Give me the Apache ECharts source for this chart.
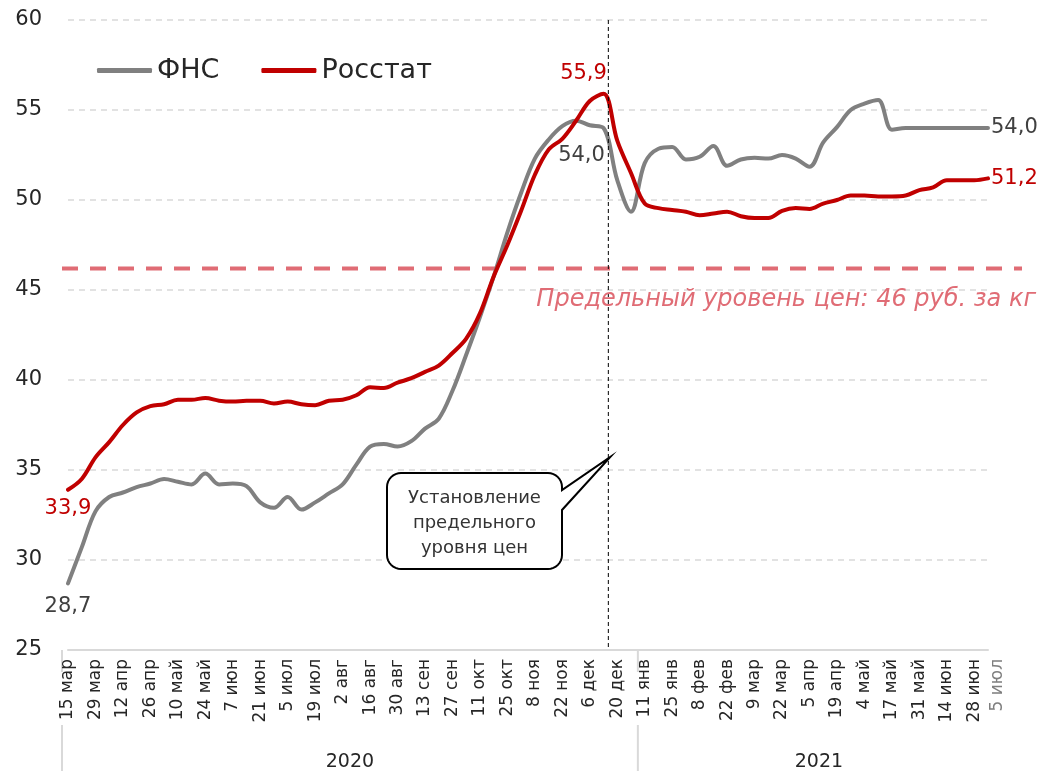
<!DOCTYPE html>
<html>
<head>
<meta charset="utf-8">
<script src="https://cdn.jsdelivr.net/npm/echarts@6/dist/echarts.min.js"></script>
<style>
  html, body { margin: 0; padding: 0; background: #ffffff; }
  #chart { width: 1040px; height: 771px; }
</style>
</head>
<body>
<div id="chart"></div>
<script>
// ---------- data ----------
const categories = [
  '15 мар','22 мар','29 мар','5 апр','12 апр','19 апр','26 апр','3 май','10 май','17 май',
  '24 май','31 май','7 июн','14 июн','21 июн','28 июн','5 июл','12 июл','19 июл','26 июл',
  '2 авг','9 авг','16 авг','23 авг','30 авг','6 сен','13 сен','20 сен','27 сен','4 окт',
  '11 окт','18 окт','25 окт','1 ноя','8 ноя','15 ноя','22 ноя','29 ноя','6 дек','13 дек',
  '20 дек','27 дек','11 янв','18 янв','25 янв','1 фев','8 фев','15 фев','22 фев','1 мар',
  '9 мар','15 мар','22 мар','29 мар','5 апр','12 апр','19 апр','26 апр','4 май','11 май',
  '17 май','24 май','31 май','7 июн','14 июн','21 июн','28 июн','5 июл'
];
const fnsValues = [
  28.7, 30.7, 32.7, 33.5, 33.75, 34.05, 34.25, 34.5, 34.35, 34.2,
  34.8, 34.2, 34.25, 34.1, 33.2, 32.9, 33.5, 32.8, 33.2, 33.7,
  34.2, 35.3, 36.3, 36.45, 36.3, 36.6, 37.3, 37.85, 39.4, 41.4,
  43.5, 45.75, 48.2, 50.4, 52.3, 53.35, 54.1, 54.4, 54.15, 54.0,
  51.1, 49.35, 52.05, 52.85, 52.95, 52.25, 52.4, 53.0, 51.9, 52.25,
  52.35, 52.3, 52.5, 52.3, 51.85, 53.2, 54.05, 55.0, 55.35, 55.55,
  53.9, 54.0, 54.0, 54.0, 54.0, 54.0, 54.0, 54.0
];
const rosstatValues = [
  33.9, 34.5, 35.7, 36.55, 37.5, 38.2, 38.55, 38.65, 38.9, 38.9,
  39.0, 38.85, 38.8, 38.85, 38.85, 38.7, 38.8, 38.65, 38.6, 38.85,
  38.9, 39.15, 39.6, 39.55, 39.85, 40.1, 40.45, 40.8, 41.5, 42.3,
  43.7, 45.75, 47.5, 49.4, 51.4, 52.8, 53.4, 54.4, 55.5, 55.9,
  53.3, 51.5, 49.8, 49.55, 49.45, 49.35, 49.15, 49.25, 49.35, 49.1,
  49.0, 49.0, 49.4, 49.55, 49.5, 49.8, 50.0, 50.25, 50.25, 50.2,
  50.2, 50.25, 50.55, 50.7, 51.1, 51.1, 51.1, 51.2
];
const seriesNames = ['ФНС', 'Росстат'];
const years = ['2020', '2021'];
const yearStartIndex = [0, 42];
const Y_MIN = 25, Y_MAX = 60, Y_STEP = 5;
const LIMIT_PRICE = 46.2;
const limitText = 'Предельный уровень цен: 46 руб. за кг';
const CAP_INDEX = 39.35;
const capNoteLines = ['Установление', 'предельного', 'уровня цен'];
const fnsLabelIdx = [0, 39, 67];
const rosstatLabelIdx = [0, 39, 67];

// ---------- styles ----------
const FONT = 'DejaVu Sans';
const GREY = '#808080';
const RED = '#C00000';
const TXT = '#262626';
const LIMIT_COLOR = '#E06C75';
const last = categories.length - 1;

const fmt = v => v.toFixed(1).replace('.', ',');

function labelFor(seriesKey, i) {
  const base = { show: true, fontFamily: FONT, fontSize: 21, formatter: p => fmt(p.value) };
  if (seriesKey === 'fns') {
    base.color = '#404040';
    if (i === 0) return Object.assign(base, { position: 'bottom', distance: 13 });
    if (i === last) return Object.assign(base, { position: 'right', distance: 3 });
    return Object.assign(base, { position: 'bottom', distance: 17, offset: [-22, 0] });
  } else {
    base.color = RED;
    if (i === 0) return Object.assign(base, { position: 'bottom', distance: 8 });
    if (i === last) return Object.assign(base, { position: 'right', distance: 3 });
    return Object.assign(base, { position: 'top', distance: 10, offset: [-20, 0] });
  }
}

const fnsData = fnsValues.map((v, i) =>
  fnsLabelIdx.includes(i) ? { value: v, label: labelFor('fns', i) } : v);
const rosstatData = rosstatValues.map((v, i) =>
  rosstatLabelIdx.includes(i) ? { value: v, label: labelFor('ros', i) } : v);

const chart = echarts.init(document.getElementById('chart'), null, { renderer: 'canvas' });

chart.setOption({
  animation: false,
  backgroundColor: '#ffffff',
  textStyle: { fontFamily: FONT },
  grid: { left: 68, right: 52, top: 20, bottom: 121, containLabel: false },
  legend: {
    data: seriesNames,
    left: 92, top: 52,
    icon: 'roundRect',
    itemWidth: 55, itemHeight: 5,
    itemGap: 42,
    textStyle: { fontFamily: FONT, fontSize: 27, color: TXT }
  },
  xAxis: {
    type: 'category',
    data: categories,
    boundaryGap: false,
    axisLine: { show: true, lineStyle: { color: '#D9D9D9', width: 2 } },
    axisTick: { show: false },
    splitLine: { show: false },
    axisLabel: {
      rotate: 90,
      margin: 9,
      interval: (idx) => idx % 2 === 0 || idx === last,
      fontFamily: FONT,
      fontSize: 17,
      color: TXT,
      formatter: (val, idx) => idx === last ? '{last|' + val + '}' : val,
      rich: { last: { color: '#7F7F7F', fontFamily: FONT, fontSize: 17, padding: [20, 0, 0, 0] } }
    }
  },
  yAxis: {
    type: 'value',
    min: Y_MIN, max: Y_MAX, interval: Y_STEP,
    axisLine: { show: false },
    axisTick: { show: false },
    axisLabel: { margin: 26, fontFamily: FONT, fontSize: 21, color: TXT },
    splitLine: { show: true, lineStyle: { color: '#D9D9D9', type: [6, 5], width: 1.5 } }
  },
  series: [
    {
      name: seriesNames[0], type: 'line', data: fnsData,
      smooth: 0.35, symbol: 'circle', symbolSize: 0, showSymbol: true,
      itemStyle: { color: GREY },
      lineStyle: { color: GREY, width: 4, cap: 'round', join: 'round' },
      label: { show: false },
      z: 3
    },
    {
      name: seriesNames[1], type: 'line', data: rosstatData,
      smooth: 0.35, symbol: 'circle', symbolSize: 0, showSymbol: true,
      itemStyle: { color: RED },
      lineStyle: { color: RED, width: 4, cap: 'round', join: 'round' },
      label: { show: false },
      z: 4
    }
  ]
});

// ---------- annotations positioned through the axes ----------
const px = i => chart.convertToPixel({ xAxisIndex: 0 }, i);
const py = v => chart.convertToPixel({ yAxisIndex: 0 }, v);
const step = px(1) - px(0);
const capX = px(Math.floor(CAP_INDEX)) + (CAP_INDEX - Math.floor(CAP_INDEX)) * step;
const limY = py(LIMIT_PRICE);
const yTop = py(Y_MAX), yBot = py(Y_MIN);
const axisStart = px(0) - 6;
const axisEnd = px(last) + 12;
const sepX = (px(yearStartIndex[1] - 1) + px(yearStartIndex[1])) / 2;

const graphics = [];
graphics.push({
  type: 'line', z: 2, silent: true,
  shape: { x1: axisStart, y1: limY, x2: 1022, y2: limY },
  style: { stroke: LIMIT_COLOR, lineWidth: 4, lineDash: [16, 12] }
});
graphics.push({
  type: 'text', z: 10, silent: true,
  x: 1036, y: limY + 31,
  style: { text: limitText, fill: LIMIT_COLOR, fontFamily: FONT, fontSize: 24, fontStyle: 'italic', align: 'right', verticalAlign: 'middle' }
});
graphics.push({
  type: 'line', z: 6, silent: true,
  shape: { x1: capX, y1: yTop, x2: capX, y2: yBot },
  style: { stroke: '#000000', lineWidth: 1, lineDash: [4, 3] }
});
[axisStart, sepX].forEach(x => {
  graphics.push({ type: 'line', silent: true, shape: { x1: x, y1: yBot, x2: x, y2: yBot + 22 }, style: { stroke: '#D9D9D9', lineWidth: 2 } });
  graphics.push({ type: 'line', silent: true, shape: { x1: x, y1: yBot + 75, x2: x, y2: 771 }, style: { stroke: '#D9D9D9', lineWidth: 2 } });
});
const bounds = [axisStart, sepX, axisEnd];
years.forEach((y, k) => {
  graphics.push({
    type: 'text', silent: true,
    x: (bounds[k] + bounds[k + 1]) / 2, y: 762,
    style: { text: y, fill: TXT, fontFamily: FONT, fontSize: 19, align: 'center', verticalAlign: 'middle' }
  });
});

// callout (rounded box with pointer), built as a polygon
const tipX = capX + 2, tipY = 457;
const L = 387, T = 473, R = 562, B = 569, r = 14;
function arc(cx, cy, a0, a1) {
  const pts = [];
  for (let k = 0; k <= 8; k++) {
    const a = a0 + (a1 - a0) * k / 8;
    pts.push([cx + r * Math.cos(a), cy + r * Math.sin(a)]);
  }
  return pts;
}
const PI = Math.PI;
const pts = [].concat(
  arc(L + r, T + r, PI, 1.5 * PI),
  arc(R - r, T + r, 1.5 * PI, 2 * PI),
  [[R, T + 17], [tipX, tipY], [R, T + 37]],
  arc(R - r, B - r, 0, 0.5 * PI),
  arc(L + r, B - r, 0.5 * PI, PI)
);
graphics.push({
  type: 'polygon', z: 8, silent: true,
  shape: { points: pts },
  style: { fill: '#ffffff', stroke: '#000000', lineWidth: 2, lineJoin: 'miter' }
});
capNoteLines.forEach((t, k) => {
  graphics.push({
    type: 'text', z: 9, silent: true,
    x: (L + R) / 2, y: 498 + k * 25,
    style: { text: t, fill: '#333333', fontFamily: FONT, fontSize: 18, align: 'center', verticalAlign: 'middle' }
  });
});

chart.setOption({ graphic: graphics });
</script>
</body>
</html>
